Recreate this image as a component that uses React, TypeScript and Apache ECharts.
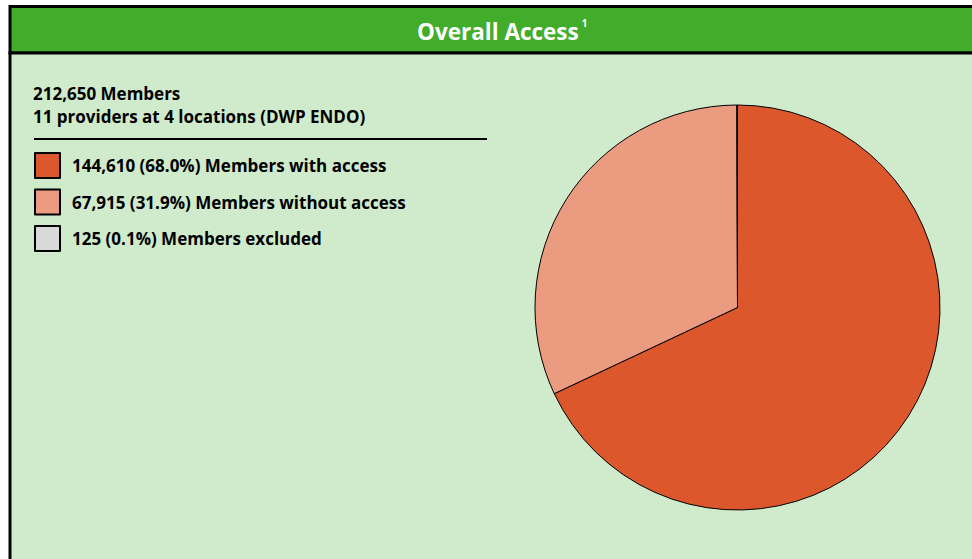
import React, { useEffect, useRef } from "react";
import * as echarts from "echarts";

const categories = ["Members with access", "Members without access", "Members excluded"];
const memberCounts = [144610, 67915, 125];
const sliceColors = ["#DC572B", "#EA9B80", "#D9D9D9"];
const headerTitle = "Overall Access";
const headerNote = "1";
const infoLines = ["212,650 Members", "11 providers at 4 locations (DWP ENDO)"];

const FONT = "'Open Sans', sans-serif";

export default function App() {
  const ref = useRef<HTMLDivElement>(null);
  useEffect(() => {
    if (!ref.current) return;
    const chart = echarts.init(ref.current, null, { renderer: "svg" });
    const total = memberCounts.reduce((a, b) => a + b, 0);
    const fmt = (n: number) => n.toLocaleString("en-US");
    const data = categories.map((c, i) => ({
      name: c,
      value: memberCounts[i],
      itemStyle: { color: sliceColors[i] },
    }));
    chart.setOption({
      animation: false,
      textStyle: { fontFamily: FONT },
      title: {
        text: `{a|${headerTitle}}{s|${headerNote}}`,
        left: 417,
        top: 15,
        padding: 0,
        textStyle: {
          rich: {
            a: { fontFamily: FONT, fontWeight: "bold", fontSize: 22.5, color: "#fff", lineHeight: 32 },
            s: { fontFamily: FONT, fontWeight: "bold", fontSize: 10, color: "#fff", verticalAlign: "top", lineHeight: 16, padding: [3, 0, 0, 3] },
          },
        },
      },
      graphic: [
        { type: "rect", z: -10, shape: { x: 10, y: 6.5, width: 1000, height: 46.5 }, style: { fill: "#41AD2B", stroke: "#000", lineWidth: 3 } },
        { type: "rect", z: -10, shape: { x: 10, y: 53, width: 1000, height: 600 }, style: { fill: "#D0EBCB", stroke: "#000", lineWidth: 3 } },
        { type: "text", x: 33, y: 93, style: { text: infoLines[0], font: `bold 17px ${FONT}`, fill: "#000", verticalAlign: "middle" } },
        { type: "text", x: 33, y: 116, style: { text: infoLines[1], font: `bold 17px ${FONT}`, fill: "#000", verticalAlign: "middle" } },
        { type: "line", shape: { x1: 34, y1: 139, x2: 487, y2: 139 }, style: { stroke: "#000", lineWidth: 2 } },
      ],
      legend: {
        orient: "vertical",
        left: 34,
        top: 152,
        padding: 0,
        itemWidth: 25,
        itemHeight: 25,
        itemGap: 9.5,
        icon: "rect",
        selectedMode: false,
        textStyle: { fontFamily: FONT, fontWeight: "bold", fontSize: 17, color: "#000", lineHeight: 25, padding: [0, 0, 0, 7] },
        formatter: (name: string) => {
          const i = categories.indexOf(name);
          const v = memberCounts[i];
          return `${fmt(v)} (${((v / total) * 100).toFixed(1)}%) ${name}`;
        },
        data: categories,
      },
      series: [
        {
          type: "pie",
          center: [737.5, 307.5],
          radius: 202.5,
          startAngle: 90,
          clockwise: true,
          label: { show: false },
          labelLine: { show: false },
          emphasis: { disabled: true },
          itemStyle: { borderColor: "#000", borderWidth: 1 },
          data,
        },
      ],
    });
    return () => chart.dispose();
  }, []);
  return <div ref={ref} style={{ position: "absolute", left: 0, top: 0, width: 972, height: 559 }} />;
}
